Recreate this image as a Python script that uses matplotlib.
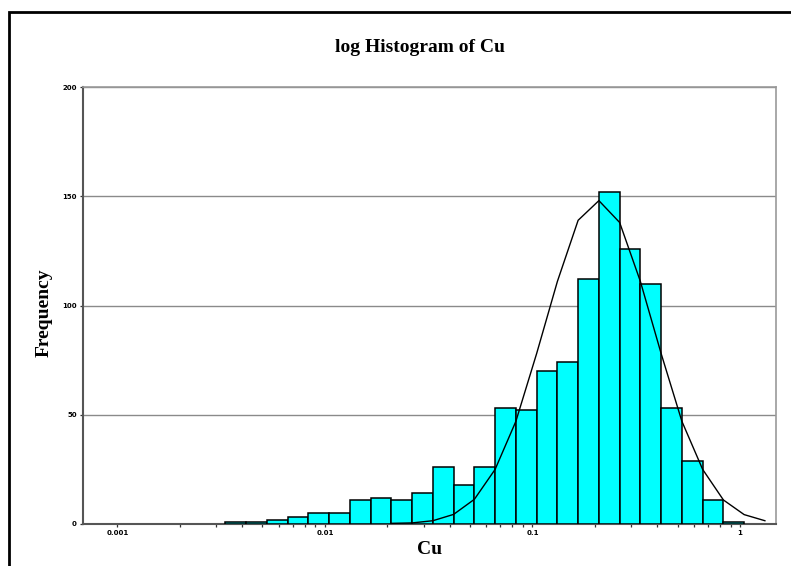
import matplotlib
matplotlib.use("Agg")
import matplotlib.pyplot as plt
from matplotlib.patches import Rectangle
from matplotlib.ticker import NullFormatter
import numpy as np

# bin edges, log10(Cu), width 0.1 decade
log_edges = [-2.48, -2.38, -2.28, -2.18, -2.08, -1.98, -1.88, -1.78, -1.68,
             -1.58, -1.48, -1.38, -1.28, -1.18, -1.08, -0.98, -0.88, -0.78,
             -0.68, -0.58, -0.48, -0.38, -0.28, -0.18, -0.08, 0.02]
counts = [1, 1, 2, 3, 5, 5, 11, 12, 11, 14, 26, 18, 26,
          53, 52, 70, 74, 112, 152, 126, 110, 53, 29, 11, 1]

# fitted curve, read at the bin edges
curve_log_x = [-1.68, -1.58, -1.48, -1.38, -1.28, -1.18, -1.08, -0.98, -0.88,
               -0.78, -0.68, -0.58, -0.48, -0.38, -0.28, -0.18, -0.08, 0.02, 0.12]
curve_y = [0.3, 0.5, 1.5, 4.4, 11.3, 25, 47, 78, 111,
           139, 148, 138, 111, 78, 47, 25, 11, 4.3, 1.5]

x_ticks = [0.001, 0.01, 0.1, 1]
x_tick_labels = ["0.001", "0.01", "0.1", "1"]
y_ticks = [0, 50, 100, 150, 200]

W, H = 791, 566
fig = plt.figure(figsize=(W / 100, H / 100), dpi=100)
fig.patch.set_facecolor("white")

# outer frame, cut off at right and bottom
fig.add_artist(Rectangle((9 / W, -0.1), 1.2, 1 - 12 / H + 0.1, transform=fig.transFigure,
                         fill=False, edgecolor="black", linewidth=2))

ax = fig.add_axes([83 / W, 1 - 524 / H, (776 - 83) / W, (524 - 87) / H])

edges = 10 ** np.array(log_edges)
ax.bar(edges[:-1], counts, width=np.diff(edges), align="edge",
       color="#00FFFF", edgecolor="black", linewidth=1.1, zorder=3)
ax.plot(10 ** np.array(curve_log_x), curve_y, color="black", linewidth=1.0, zorder=4)

ax.set_xscale("log")
ax.set_xlim(10 ** -3.166, 10 ** 0.1735)
ax.set_ylim(0, 200)

ax.set_xticks(x_ticks)
ax.set_xticklabels(x_tick_labels)
# minor ticks only between the labelled decades
minor = [m * 10.0 ** e for e in (-3, -2, -1) for m in range(2, 10)]
ax.set_xticks(minor, minor=True)
ax.xaxis.set_minor_formatter(NullFormatter())
ax.set_yticks(y_ticks)
ax.tick_params(axis="both", which="major", labelsize=5, length=2.5, width=0.9, pad=2,
               colors="#333333", labelcolor="black")
ax.tick_params(axis="x", which="minor", length=2, width=0.9, colors="#333333")
for lbl in ax.get_xticklabels() + ax.get_yticklabels():
    lbl.set_fontweight("bold")

ax.grid(axis="y", color="#8a8a8a", linewidth=1.0, zorder=0)
ax.set_axisbelow(True)
for side in ["left", "bottom"]:
    ax.spines[side].set_color("#555555")
    ax.spines[side].set_linewidth(1.5)
for side in ["top", "right"]:
    ax.spines[side].set_color("#999999")
    ax.spines[side].set_linewidth(1.2)

serif = ["Liberation Serif", "DejaVu Serif"]
fig.text(420 / W, 1 - 47 / H, "log Histogram of Cu", ha="center", va="center",
         fontsize=14, fontweight="bold", family=serif)
fig.text(44 / W, 1 - 313 / H, "Frequency", ha="center", va="center", rotation=90,
         fontsize=14, fontweight="bold", family=serif)
fig.text(430 / W, 1 - 550 / H, "Cu", ha="center", va="center",
         fontsize=14, fontweight="bold", family=serif)

fig.savefig("out.png", dpi=100)
